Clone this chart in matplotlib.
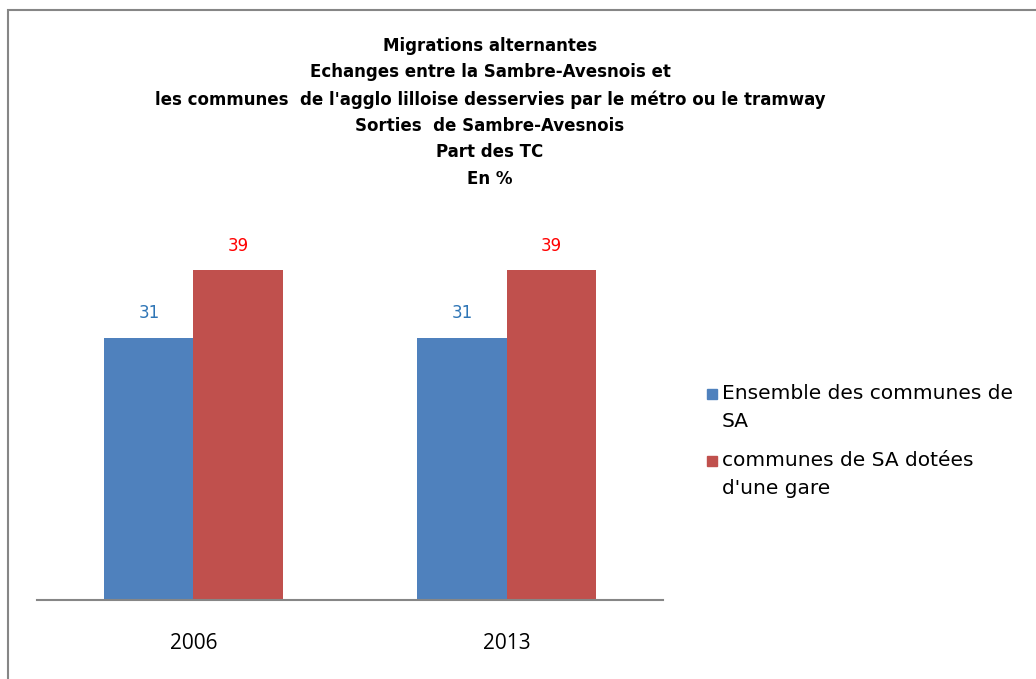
import matplotlib.pyplot as plt
from matplotlib.patches import Rectangle

years = ['2006', '2013']
ensemble = [31, 31]
gare = [39, 39]
series_names = ['Ensemble des communes de\nSA', "communes de SA dotées\nd'une gare"]
colors = ['#4F81BD', '#C0504D']

title = ("Migrations alternantes\n"
         "Echanges entre la Sambre-Avesnois et\n"
         "les communes  de l'agglo lilloise desservies par le métro ou le tramway\n"
         "Sorties  de Sambre-Avesnois\n"
         "Part des TC\n"
         "En %")

fig = plt.figure(figsize=(10.36, 6.79), dpi=100)
ax = fig.add_axes([0.0357, 0.1163, 0.6043, 0.5612])

# outer chart frame (extends past the right and bottom edges)
fig.patches.append(Rectangle((8 / 1036, -0.05), 1.1, 1 - 10 / 679 + 0.05,
                             transform=fig.transFigure, fill=False,
                             edgecolor='#868686', linewidth=1.5))

x = range(len(years))
w = 0.285
b1 = ax.bar([i - w / 2 for i in x], ensemble, w, color=colors[0])
b2 = ax.bar([i + w / 2 for i in x], gare, w, color=colors[1])

for bar, v in zip(b1, ensemble):
    ax.text(bar.get_x() + bar.get_width() / 2, v + 1.8, str(v), ha='center',
            va='bottom', color='#2E75B6', fontsize=12, family='DejaVu Sans')
for bar, v in zip(b2, gare):
    ax.text(bar.get_x() + bar.get_width() / 2, v + 1.8, str(v), ha='center',
            va='bottom', color='#FF0000', fontsize=12, family='DejaVu Sans')

ax.set_xlim(-0.5, 1.5)
ax.set_ylim(0, 45)
ax.set_xticks(list(x))
ax.set_xticklabels(years, fontsize=15, family='Open Sans')
ax.tick_params(axis='x', length=0, pad=24)
ax.set_yticks([])
for s in ['top', 'right', 'left']:
    ax.spines[s].set_visible(False)
ax.spines['bottom'].set_color('#868686')
ax.spines['bottom'].set_linewidth(1.5)

fig.text(0.473, 1 - 37 / 679, title, ha='center', va='top', fontsize=12,
         fontweight='bold', linespacing=1.6, family='DejaVu Sans')

# legend, marker aligned with the first line of each entry
W, H = 1036, 679
for k, (name, c) in enumerate(zip(series_names, colors)):
    y0 = 394 + k * 67
    fig.patches.append(Rectangle((707 / W, 1 - (y0 + 5) / H), 10 / W, 10 / H,
                                 transform=fig.transFigure, color=c))
    fig.text(722 / W, 1 - (y0 - 10) / H, name, ha='left', va='top', fontsize=14.5,
             family='DejaVu Sans', linespacing=1.58)

plt.savefig('out.png', dpi=100)
